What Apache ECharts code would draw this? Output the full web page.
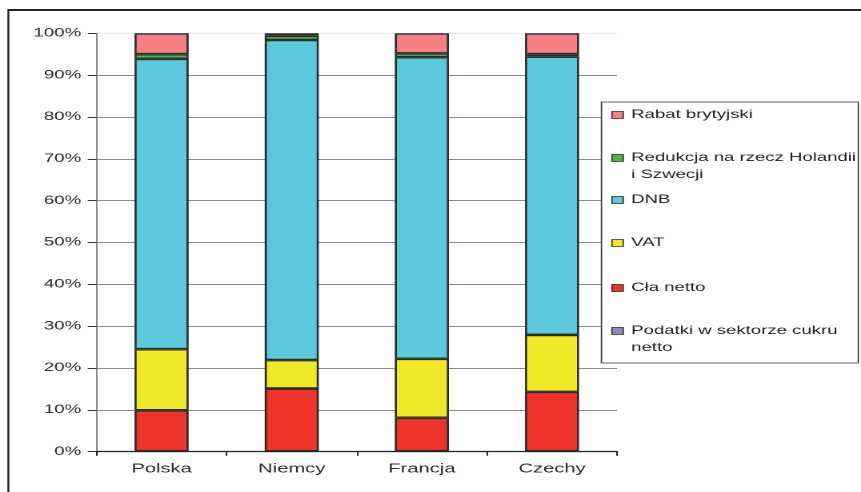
<!DOCTYPE html>
<html>
<head>
<meta charset="utf-8">
<script src="https://cdn.jsdelivr.net/npm/echarts@6/dist/echarts.min.js"></script>
<style>
  html, body { margin: 0; padding: 0; background: #fff; overflow: hidden; }
  /* chart is laid out narrow and stretched horizontally */
  #chart { width: 538px; height: 492px; transform: scaleX(1.6004); transform-origin: 0 0; }
</style>
</head>
<body>
<div id="chart"></div>
<script>
// Countries on the category axis
const countries = ['Polska', 'Niemcy', 'Francja', 'Czechy'];

// Series names (legend order, top to bottom)
const nameRabat = 'Rabat brytyjski';
const nameRedukcja = 'Redukcja na rzecz Holandii i Szwecji';
const nameDnb = 'DNB';
const nameVat = 'VAT';
const nameCla = 'Cła netto';
const namePodatki = 'Podatki w sektorze cukru netto';

// Shares of each source, in percent
const podatki  = [0.1, 0.1, 0.1, 0.1];
const cla      = [9.8, 15.0, 8.0, 14.2];
const vat      = [14.6, 6.8, 14.1, 13.6];
const dnb      = [69.4, 76.5, 72.1, 66.5];
const redukcja = [1.1, 1.0, 0.9, 0.6];
const rabat    = [5.0, 0.6, 4.8, 5.0];

// Y axis tick values
const yTicks = [0, 10, 20, 30, 40, 50, 60, 70, 80, 90, 100];

const FONT = '"Liberation Sans", Arial, sans-serif';
const BORDER = '#2a2a2a';

function bar(name, data, color) {
  return {
    name: name,
    type: 'bar',
    stack: 'total',
    data: data,
    barWidth: 33.8,
    itemStyle: { color: color, borderColor: BORDER, borderWidth: 1.3 },
    emphasis: { disabled: true }
  };
}

const series = [
  bar(namePodatki, podatki, '#8C8CC8'),
  bar(nameCla, cla, '#EE342A'),
  bar(nameVat, vat, '#EFE929'),
  bar(nameDnb, dnb, '#5CC8DB'),
  bar(nameRedukcja, redukcja, '#4FB748'),
  bar(nameRabat, rabat, '#F58085')
];

// One legend block per entry so every marker sits on its first text line
const legendEntries = [
  { name: nameRabat, center: 115, lines: 1 },
  { name: nameRedukcja, center: 158, lines: 2, text: 'Redukcja na rzecz Holandii\ni Szwecji' },
  { name: nameDnb, center: 200, lines: 1 },
  { name: nameVat, center: 243, lines: 1 },
  { name: nameCla, center: 288, lines: 1 },
  { name: namePodatki, center: 331, lines: 2, text: 'Podatki w sektorze cukru\nnetto' }
];
const LINE_H = 17;
const legends = legendEntries.map(function (e) {
  const twoLine = e.lines === 2;
  return {
    data: [e.name],
    orient: 'vertical',
    left: 382,
    top: twoLine ? e.center - LINE_H * 1.5 : e.center - LINE_H / 2,
    padding: 0,
    itemWidth: 7,
    itemHeight: 7,
    itemGap: 0,
    icon: 'rect',
    selectedMode: false,
    z: 20,
    itemStyle: { borderColor: BORDER, borderWidth: 0.8 },
    formatter: function () { return twoLine ? '\n' + e.text : e.name; },
    textStyle: { fontFamily: FONT, fontSize: 11.6, color: '#222', lineHeight: LINE_H }
  };
});

const gridColors = yTicks.map(function (v) { return v === 100 ? '#eeeeee' : '#8a8a8a'; });

const option = {
  animation: false,
  backgroundColor: '#fff',
  grid: { left: 60.3, right: 152.4, top: 33.3, bottom: 40.3, containLabel: false },
  xAxis: {
    type: 'category',
    data: countries,
    axisLine: { show: true, lineStyle: { color: '#222', width: 1.2 } },
    axisTick: { show: true, alignWithLabel: false, interval: 0, length: 4, lineStyle: { color: '#222' } },
    axisLabel: { fontFamily: FONT, fontSize: 12.6, color: '#2a2a2a', margin: 11, interval: 0 },
    splitLine: { show: false }
  },
  yAxis: {
    type: 'value',
    min: yTicks[0],
    max: yTicks[yTicks.length - 1],
    interval: 10,
    axisLine: { show: true, lineStyle: { color: '#8a8a8a', width: 1 } },
    axisTick: { show: true, length: 5.5, lineStyle: { color: '#333' } },
    axisLabel: { fontFamily: FONT, fontSize: 11.7, color: '#2a2a2a', margin: 9.5, formatter: '{value}%' },
    splitLine: { show: true, lineStyle: { color: gridColors, width: 1 } }
  },
  legend: legends,
  graphic: [
    // outer frame
    { type: 'line', z: 30, shape: { x1: 5, y1: 10, x2: 540, y2: 10 }, style: { stroke: '#222', lineWidth: 2 } },
    { type: 'line', z: 30, shape: { x1: 5.2, y1: 9, x2: 5.2, y2: 495 }, style: { stroke: '#222', lineWidth: 1.2 } },
    // legend box
    { type: 'rect', z: 10, shape: { x: 375.8, y: 102, width: 160.5, height: 261 },
      style: { fill: '#fff', stroke: '#333', lineWidth: 0.8 } }
  ],
  series: series
};

const chart = echarts.init(document.getElementById('chart'), null, { renderer: 'canvas', devicePixelRatio: 2 });
chart.setOption(option);
</script>
</body>
</html>
